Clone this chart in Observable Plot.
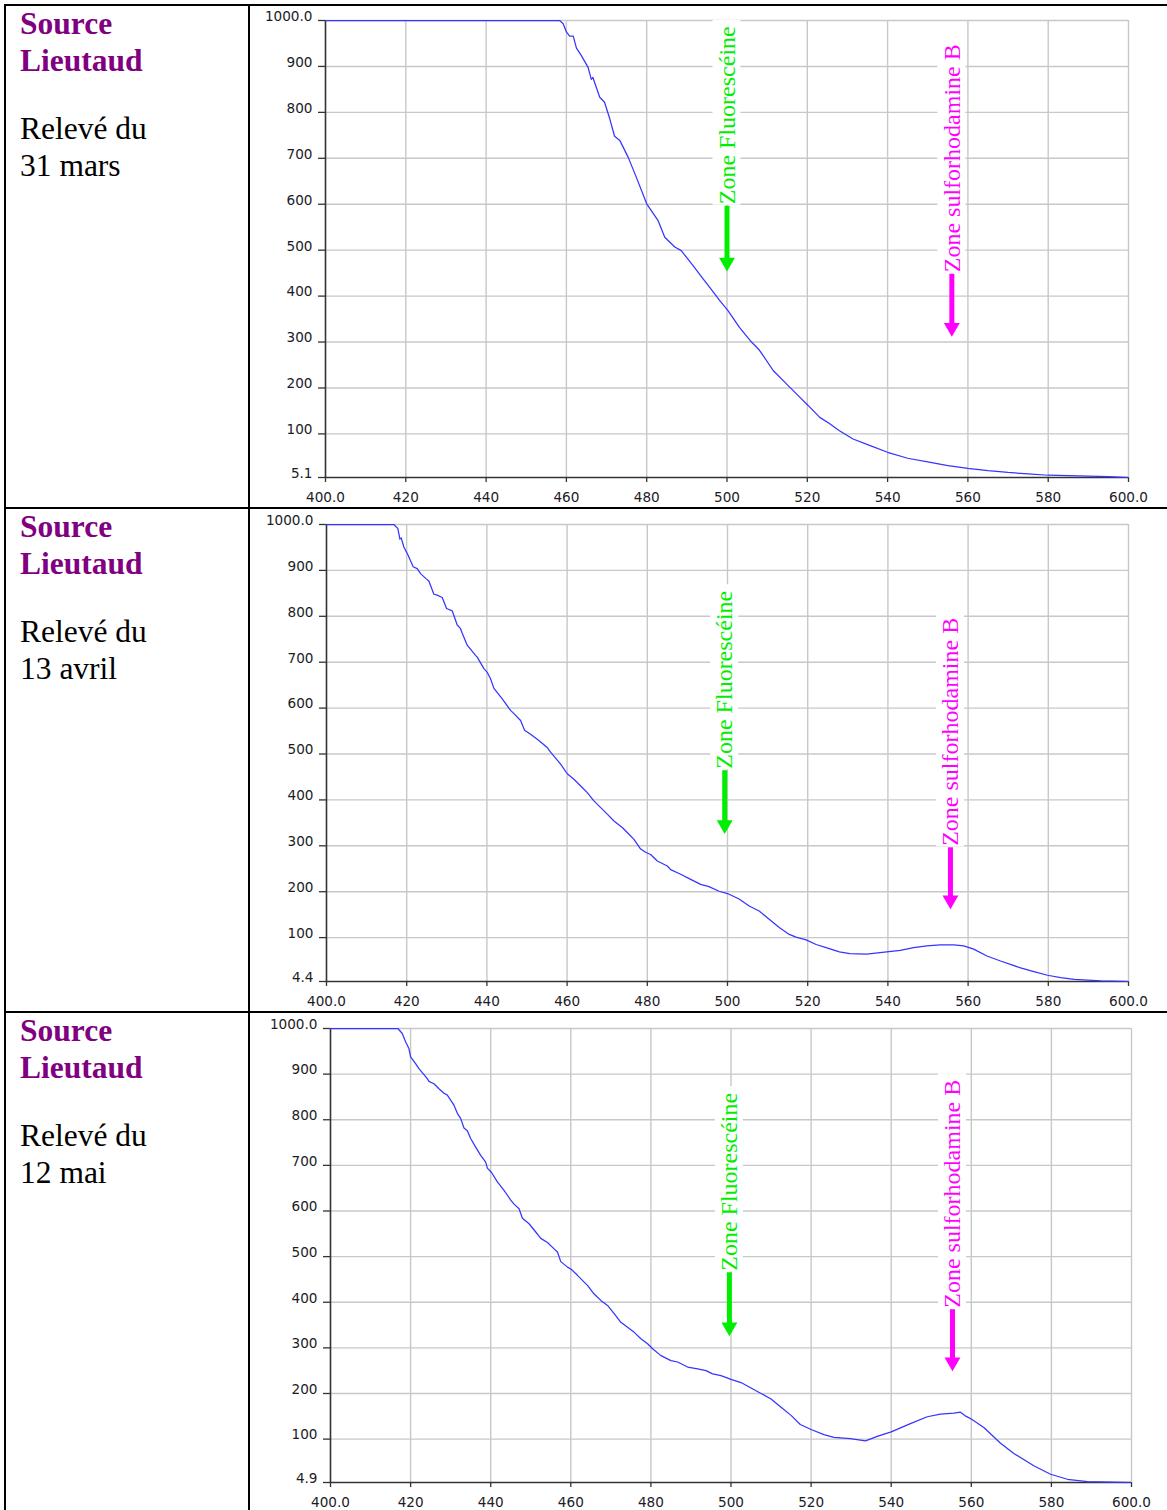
<!DOCTYPE html>
<html><head><meta charset="utf-8">
<script src="https://cdn.jsdelivr.net/npm/d3@7"></script>
<script src="https://cdn.jsdelivr.net/npm/@observablehq/plot@0.6"></script>
<style>
html,body{margin:0;padding:0;background:#fff;width:1167px;height:1510px;overflow:hidden;}
#page{position:relative;width:1167px;height:1510px;}
.hl{position:absolute;left:4px;right:0;height:2px;background:#000;z-index:5;}
.vl{position:absolute;top:4px;bottom:0;width:2px;background:#000;z-index:5;}
.label{position:absolute;left:20px;font-family:"Liberation Serif","Times New Roman",serif;font-size:31.5px;line-height:36.7px;}
.label .src{color:#800080;font-weight:bold;}
.label .date{margin-top:31.6px;color:#000;}
.chart{position:absolute;left:250px;width:917px;}
.chart svg{display:block;}
</style></head>
<body>
<div id="page"></div>
<script>
// ---------- data ----------
const rowLabels = ["31 mars", "13 avril", "12 mai"];
const sourceName = "Source Lieutaud";

const wl1 = [400, 458.3, 459.2, 460, 460.8, 461.7, 462.5, 463.7, 465.4, 466.2, 466.6, 468.3, 469.5, 470.8, 472.0, 473.3, 475.4, 477.4, 480, 481.7, 482.8, 484.5, 487.0, 488.6, 491.5, 494.0, 495.7, 498.2, 500.2, 503.1, 506.1, 508.1, 511.5, 514.8, 518.1, 520.2, 523.1, 525.6, 528.0, 531.4, 535.5, 540, 545, 550, 555, 560, 565, 570, 575, 580, 585, 590, 595, 600];
const ab1 = [1000, 1000, 993, 975, 966, 966, 940, 924, 898, 872, 876, 833, 822, 786, 748, 739, 702, 659, 601, 579, 565, 528, 507, 499, 467, 438, 419, 390, 369, 332, 300, 282, 238, 209, 180, 162, 136, 122, 107, 89, 75, 60, 47, 39, 31, 25, 20, 16, 13, 10, 9, 8, 7, 5.1];

const wl2 = [400, 416.8, 417.8, 418.3, 418.63, 419.29, 420.29, 421.62, 422.62, 423.45, 424.95, 425.53, 426.78, 427.61, 428.86, 429.94, 431.35, 432.6, 433.43, 433.85, 435.09, 437.17, 437.59, 439.25, 440.08, 440.91, 441.75, 443.83, 445.9, 446.74, 448.4, 449.4, 450.89, 452.56, 455.05, 455.88, 458.38, 460.04, 461.7, 463.78, 465.03, 466.69, 467.94, 470.02, 471.68, 473.76, 475.01, 476.67, 478.34, 479.58, 480.83, 482.49, 484.99, 485.82, 488.32, 490.81, 493.31, 495.38, 497.88, 500, 502.9, 505.4, 507.9, 510.4, 512.9, 515.4, 517.1, 519.6, 522.1, 524.6, 527.9, 530.5, 534.7, 539.7, 543.1, 546.4, 549.7, 553.1, 556.4, 558.9, 561.4, 564.7, 568.1, 573.1, 576.4, 579.8, 583.1, 586.5, 593.1, 600];
const ab2 = [1000, 1000, 991, 968, 971, 951, 934, 908, 904, 893, 881, 877, 848, 846, 841, 817, 812, 781, 773, 763, 737, 715, 711, 686, 678, 664, 643, 620, 595, 588, 573, 552, 543, 532, 514, 504, 478, 457, 445, 427, 416, 398, 387, 369, 354, 340, 329, 314, 293, 286, 281, 267, 256, 248, 238, 227, 216, 211, 201, 196, 184, 169, 158, 140, 122, 107, 101, 95, 85, 78, 69, 65, 64, 69, 72, 78, 82, 84, 84, 82, 75, 60, 49, 34, 26, 18, 13, 9, 5.5, 4.4];

const wl3 = [400, 416.83, 417.92, 418.75, 419.58, 420.0, 421.25, 422.08, 424.17, 424.58, 425.83, 427.08, 428.33, 429.17, 430.0, 430.83, 431.67, 432.5, 433.33, 434.17, 435.0, 436.25, 437.5, 438.75, 439.17, 440.17, 441.67, 443.33, 445.0, 445.83, 447.08, 447.92, 449.58, 451.25, 452.5, 454.17, 455.83, 456.67, 457.5, 459.17, 460.0, 461.67, 463.33, 464.17, 465.83, 467.5, 469.17, 470.83, 472.5, 474.17, 475.83, 477.5, 479.17, 480.42, 482.5, 485.0, 486.67, 489.17, 491.67, 493.75, 495.42, 497.5, 500, 502.5, 505, 507.5, 510, 512.5, 515, 517.3, 520, 523.2, 525.7, 529.8, 533.6, 536.5, 540, 544.8, 549, 552.3, 555.7, 557.3, 558.5, 560, 563.2, 567.3, 570.7, 575.7, 579.8, 584, 589, 594.8, 600];
const ab3 = [1000, 1000, 989, 971, 956, 938, 923, 912, 890, 884, 879, 868, 858, 854, 843, 832, 814, 803, 782, 776, 759, 740, 722, 707, 694, 685, 664, 645, 624, 615, 605, 584, 572, 554, 540, 531, 517, 510, 489, 477, 473, 459, 444, 437, 418, 404, 393, 375, 356, 345, 334, 320, 309, 298, 283, 272, 269, 258, 254, 250, 243, 239, 231, 224, 212, 200, 188, 170, 152, 132, 121, 110, 104, 101, 96, 106, 116, 134, 149, 155, 157, 159, 151, 144, 125, 91, 68, 41, 23, 12, 7, 5.5, 4.9];

const yMins = [5.1, 4.4, 4.9];
const xTicks = [400, 420, 440, 460, 480, 500, 520, 540, 560, 580, 600];
const yTickVals = [100, 200, 300, 400, 500, 600, 700, 800, 900, 1000];

const zoneNames = ["Zone Fluorescéine", "Zone sulforhodamine B"];
const zoneColors = ["#00ee00", "#ff00ff"];
// per chart: [x, text bottom value, arrow tip value] for each zone
const zoneGreen = [[500, 600, 454], [499.3, 468, 326], [499.6, 469, 326]];
const zoneMagenta = [[556, 452, 312], [555.6, 300, 162], [555.3, 388, 249]];
const zoneTextLen = [178, 228];

// ---------- layout ----------
const rowTops = [6, 509, 1013];
const plotDims = [
  {height: 501, ml: 75, mr: 39, mt: 14, mb: 30},
  {height: 501, ml: 76, mr: 39, mt: 15, mb: 29},
  {height: 497, ml: 80, mr: 36, mt: 15, mb: 28}
];

const fmtX = v => (v === 400 || v === 600) ? v.toFixed(1) : String(v);
const fmtY = v => v === 1000 ? "1000.0" : (Number.isInteger(v) ? String(v) : v.toFixed(1));

function makeChart(i) {
  const wl = [wl1, wl2, wl3][i], ab = [ab1, ab2, ab3][i], ymin = yMins[i];
  const d = plotDims[i];
  const data = wl.map((w, k) => ({w, a: Math.max(ab[k], ymin)}));
  const zones = [zoneGreen[i], zoneMagenta[i]].map((z, k) => ({
    x: z[0], yb: z[1], tip: z[2], text: zoneNames[k], color: zoneColors[k], len: zoneTextLen[k]
  }));
  const yTicks = [ymin, ...yTickVals];
  const grid = {stroke: "#c8c8c8", strokeOpacity: 1, strokeWidth: 1.4};
  const zoneMarks = zones.flatMap(z => [
    Plot.rect([z], {x1: "x", x2: "x", y1: "yb", y2: "yb", insetLeft: -14, insetRight: -14,
      insetTop: -(z.len + 6), insetBottom: -1, fill: "white"}),
    Plot.text([z], {x: "x", y: "yb", text: "text", rotate: -90, textAnchor: "start", lineAnchor: "middle",
      fontFamily: "Liberation Serif", fontSize: 24, fill: z.color}),
    Plot.ruleX([z], {x: "x", y1: "yb", y2: "tip", insetTop: 2, insetBottom: 10, stroke: z.color, strokeWidth: 5}),
    Plot.dot([z], {x: "x", y: "tip", symbol: "triangle", r: 5.9, rotate: 180, dy: -9, fill: z.color, stroke: "none"})
  ]);
  return Plot.plot({
    width: 917, height: d.height,
    marginLeft: d.ml, marginRight: d.mr, marginTop: d.mt, marginBottom: d.mb,
    x: {domain: [400, 600]},
    y: {domain: [ymin, 1000]},
    style: {fontFamily: "DejaVu Sans", fontSize: "13.6px", color: "#1c1c28", background: "transparent"},
    marks: [
      Plot.gridX(xTicks.slice(1), grid),
      Plot.gridY(yTickVals, grid),
      Plot.axisY(yTicks, {tickSize: 7, tickFormat: () => "", label: null, stroke: "#333", strokeWidth: 1.3}),
      Plot.axisY(yTicks, {tickSize: 0, tickPadding: 13, dy: -4, tickFormat: fmtY, label: null}),
      Plot.axisX(xTicks, {tickSize: 5, tickPadding: 10, tickFormat: fmtX, label: null, stroke: "#333", strokeWidth: 1.3}),
      Plot.ruleX([400], {stroke: "#333", strokeWidth: 1.6}),
      Plot.ruleY([ymin], {stroke: "#333", strokeWidth: 1.6}),
      Plot.line(data, {x: "w", y: "a", stroke: "#3535ff", strokeWidth: 1.25}),
      ...zoneMarks
    ]
  });
}

const page = document.getElementById("page");
function add(cls, style) {
  const el = document.createElement("div");
  el.className = cls;
  el.setAttribute("style", style);
  page.appendChild(el);
  return el;
}
rowLabels.forEach((lab, i) => {
  const l = add("label", `top:${rowTops[i]}px`);
  const words = sourceName.split(" ");
  const s = document.createElement("div"); s.className = "src";
  s.innerHTML = words[0] + "<br>" + words[1];
  const dt = document.createElement("div"); dt.className = "date";
  dt.innerHTML = "Relevé du<br>" + lab;
  l.appendChild(s); l.appendChild(dt);
  const c = add("chart", `top:${rowTops[i]}px`);
  c.appendChild(makeChart(i));
});
// table borders
add("hl", "top:4px");
add("hl", "top:507px");
add("hl", "top:1011px");
add("vl", "left:4px");
add("vl", "left:248px");
</script>
</body></html>
